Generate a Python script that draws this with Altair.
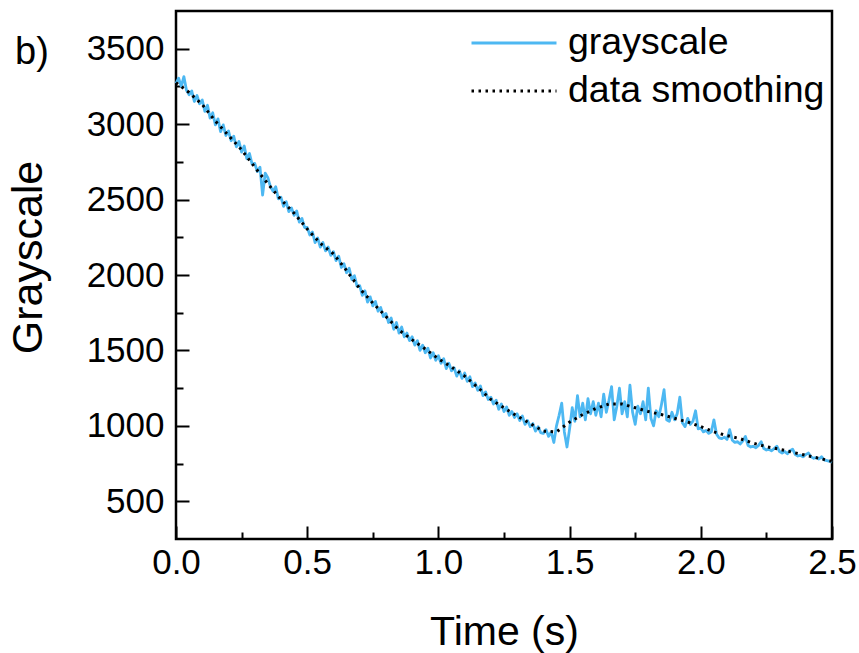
import altair as alt
import numpy as np
import pandas as pd

# ---- data ----
gray_step = 0.01
grayscale = [
    3270, 3305, 3250, 3315, 3225, 3195, 3220, 3150, 3190, 3135,
    3160, 3085, 3125, 3040, 3075, 2995, 3035, 2950, 2995, 2925,
    2955, 2890, 2920, 2850, 2885, 2815, 2855, 2770, 2805, 2735,
    2740, 2685, 2715, 2530, 2675, 2645, 2585, 2555, 2585, 2505,
    2515, 2455, 2485, 2420, 2445, 2395, 2425, 2350, 2375, 2315,
    2315, 2265, 2285, 2215, 2245, 2185, 2215, 2160, 2185, 2130,
    2155, 2095, 2125, 2050, 2075, 2015, 2045, 1970, 1995, 1925,
    1930, 1865, 1895, 1820, 1855, 1795, 1825, 1760, 1785, 1725,
    1745, 1685, 1715, 1640, 1685, 1615, 1655, 1590, 1615, 1565,
    1590, 1535, 1565, 1500, 1535, 1485, 1515, 1450, 1485, 1435,
    1465, 1415, 1445, 1380, 1415, 1365, 1385, 1330, 1365, 1315,
    1350, 1295, 1325, 1260, 1285, 1235, 1265, 1200, 1225, 1175,
    1190, 1145, 1170, 1110, 1145, 1095, 1125, 1070, 1095, 1055,
    1080, 1035, 1065, 1010, 1035, 995, 1015, 965, 995, 955,
    950, 975, 930, 960, 890, 1000, 1070, 1150, 960, 860,
    980, 1120, 1030, 1200, 1060, 1150, 1040, 1180, 1080, 1160,
    1070, 1150, 1060, 1210, 1090, 1170, 1260, 1040, 1130, 1250,
    1080, 1160, 1060, 1270, 1090, 1010, 1130, 1080, 1160, 1040,
    1250, 1050, 1000, 1100, 1060, 1140, 1240, 1040, 1030, 1090,
    1040, 1080, 1190, 1020, 995, 1050, 1010, 1030, 1100, 980,
    985, 960, 970, 950, 960, 1040, 945, 920, 915, 925,
    910, 975, 905, 890, 895, 880, 900, 930, 870, 860,
    865, 855, 870, 895, 850, 840, 845, 835, 850, 865,
    830, 820, 830, 815, 835, 845, 810, 800, 805, 795,
    810, 820, 795, 785, 790, 780, 795, 775, 770, 765, 760,
]

smooth_step = 0.05
smoothing = [
    3275, 3210, 3130, 3020, 2925, 2830, 2715, 2605, 2500, 2410,
    2305, 2210, 2140, 2030, 1910, 1815, 1725, 1635, 1570, 1510,
    1445, 1390, 1330, 1255, 1175, 1120, 1065, 1015, 965, 960,
    1025, 1075, 1115, 1145, 1145, 1120, 1095, 1075, 1050, 1025,
    995, 960, 935, 915, 885, 862, 845, 825, 805, 785, 765,
]

series_names = ["grayscale", "data smoothing"]
series_colors = ["#4db8f2", "#000000"]
series_dash = [[1, 0], [2.5, 4.5]]
series_width = [2.8, 3]

x_major = [0.0, 0.5, 1.0, 1.5, 2.0, 2.5]
x_minor = [0.25, 0.75, 1.25, 1.75, 2.25]
y_major = [500, 1000, 1500, 2000, 2500, 3000, 3500]
y_minor = [750, 1250, 1750, 2250, 2750, 3250]

# ---- tables ----
gray_df = pd.DataFrame({
    "t": np.round(np.arange(len(grayscale)) * gray_step, 4),
    "v": grayscale,
    "series": series_names[0],
})
smooth_df = pd.DataFrame({
    "t": np.round(np.arange(len(smoothing)) * smooth_step, 4),
    "v": smoothing,
    "series": series_names[1],
})

FONT = "Liberation Sans"
x_scale = alt.Scale(domain=[0, 2.5], nice=False, zero=False)
y_scale = alt.Scale(domain=[250, 3750], nice=False, zero=False)

legend = alt.Legend(
    title=None, orient="none", legendX=294, legendY=8,
    symbolType="stroke", symbolSize=7225, labelFontSize=37.5,
    labelFont=FONT, labelColor="black", labelOffset=10,
    rowPadding=0, clipHeight=48, labelLimit=400,
)
color_enc = alt.Color("series:N", scale=alt.Scale(domain=series_names, range=series_colors), legend=legend)
dash_enc = alt.StrokeDash("series:N", scale=alt.Scale(domain=series_names, range=series_dash), legend=legend)
width_enc = alt.StrokeWidth("series:N", scale=alt.Scale(domain=series_names, range=series_width), legend=legend)

major_x_axis = alt.Axis(
    orient="bottom", values=x_major, format=".1f", offset=-13, tickSize=13,
    tickWidth=2, tickColor="black", domain=False, grid=False, labelFlush=False,
    labelFont=FONT, labelFontSize=35, labelColor="black", labelPadding=6,
    title="Time (s)", titleFont=FONT, titleFontSize=41, titleFontWeight="normal",
    titleColor="black", titlePadding=32,
)
major_y_axis = alt.Axis(
    orient="left", values=y_major, format="d", offset=-13, tickSize=13,
    tickWidth=2, tickColor="black", domain=False, grid=False, labelFlush=False,
    labelFont=FONT, labelFontSize=35, labelColor="black", labelPadding=12,
    title="Grayscale", titleFont=FONT, titleFontSize=43, titleFontWeight="normal",
    titleColor="black", titlePadding=36, titleY=246,
)
minor_x_axis = alt.Axis(
    orient="bottom", values=x_minor, offset=-7, tickSize=7, tickWidth=2,
    tickColor="black", domain=False, grid=False, labels=False, title=None,
)
minor_y_axis = alt.Axis(
    orient="left", values=y_minor, offset=-7, tickSize=7, tickWidth=2,
    tickColor="black", domain=False, grid=False, labels=False, title=None,
)

gray_line = alt.Chart(gray_df).mark_line(strokeJoin="round").encode(
    x=alt.X("t:Q", scale=x_scale, axis=major_x_axis),
    y=alt.Y("v:Q", scale=y_scale, axis=major_y_axis),
    color=color_enc, strokeDash=dash_enc, strokeWidth=width_enc,
)
smooth_line = alt.Chart(smooth_df).mark_line(strokeCap="butt").encode(
    x=alt.X("t:Q", scale=x_scale, axis=minor_x_axis),
    y=alt.Y("v:Q", scale=y_scale, axis=minor_y_axis),
    color=color_enc, strokeDash=dash_enc, strokeWidth=width_enc,
)

chart = alt.layer(gray_line, smooth_line).resolve_axis(
    x="independent", y="independent"
).properties(
    width=656, height=528,
    autosize=alt.AutoSizeParams(type="none"),
    padding={"left": 176, "top": 11, "right": 27, "bottom": 114},
    background="white",
    title=alt.TitleParams(
        "b)", anchor="start", orient="top", frame="group", fontSize=38,
        font=FONT, fontWeight="normal", color="black", dx=-161, dy=91,
        offset=0, baseline="alphabetic",
    ),
).configure_view(stroke="black", strokeWidth=2.5)

chart.save("out.html", embed_options={"renderer": "svg", "actions": False})
